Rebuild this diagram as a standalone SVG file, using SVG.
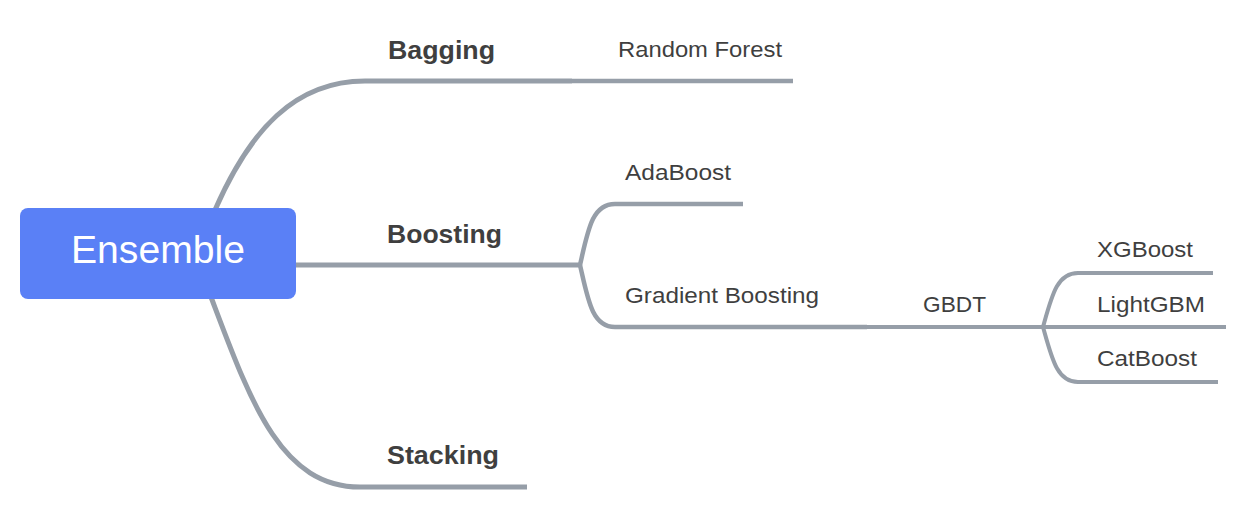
<svg xmlns="http://www.w3.org/2000/svg" width="1247" height="511" viewBox="0 0 1247 511">
<style>
.c{fill:none;stroke:#969ea8;stroke-linecap:butt;stroke-linejoin:round}
.w1{stroke-width:5}
.w2{stroke-width:4.5}
.w3{stroke-width:4}
.t{font-family:"Liberation Sans",Arial,sans-serif;fill:#3f3f3f}
.b{font-size:25px;font-weight:bold}
.n{font-size:22px}
.root{font-family:"Liberation Sans",Arial,sans-serif;font-size:38px;fill:#ffffff}
</style>
<rect width="1247" height="511" fill="#ffffff"/>
<g id="connectors">
<path class="c w1" d="M215 210 C250 130 295 81 365 81 H572"/>
<path class="c w2" d="M572 81 H793"/>
<path class="c w1" d="M294 265 H581"/>
<path class="c w2" d="M580 265 C588 230 592 204 615 204 H743"/>
<path class="c w2" d="M580 265 C588 300 592 327 615 327 H867"/>
<path class="c w3" d="M867 327 H1043"/>
<path class="c w3" d="M1043 327 C1052 295 1057 273 1078 273 H1213"/>
<path class="c w3" d="M1043 327 H1226"/>
<path class="c w3" d="M1043 327 C1052 359 1057 382 1078 382 H1218"/>
<path class="c w1" d="M211 297 C250 400 280 487 360 487 H527"/>
</g>
<g id="ensemble">
<rect x="20" y="208" width="276" height="91" rx="8" ry="8" fill="#5a80f6"/>
<text class="root" x="71" y="263" textLength="174" lengthAdjust="spacingAndGlyphs">Ensemble</text>
</g>
<g id="bagging"><text class="t b" x="388" y="59" textLength="107" lengthAdjust="spacingAndGlyphs">Bagging</text></g>
<g id="random-forest"><text class="t n" x="618" y="57" textLength="164" lengthAdjust="spacingAndGlyphs">Random Forest</text></g>
<g id="boosting"><text class="t b" x="387" y="243" textLength="115" lengthAdjust="spacingAndGlyphs">Boosting</text></g>
<g id="adaboost"><text class="t n" x="625" y="180" textLength="106" lengthAdjust="spacingAndGlyphs">AdaBoost</text></g>
<g id="gradient-boosting"><text class="t n" x="625" y="303" textLength="194" lengthAdjust="spacingAndGlyphs">Gradient Boosting</text></g>
<g id="gbdt"><text class="t n" x="923" y="312" textLength="63" lengthAdjust="spacingAndGlyphs">GBDT</text></g>
<g id="xgboost"><text class="t n" x="1097" y="257" textLength="96" lengthAdjust="spacingAndGlyphs">XGBoost</text></g>
<g id="lightgbm"><text class="t n" x="1097" y="312" textLength="108" lengthAdjust="spacingAndGlyphs">LightGBM</text></g>
<g id="catboost"><text class="t n" x="1097" y="366" textLength="100" lengthAdjust="spacingAndGlyphs">CatBoost</text></g>
<g id="stacking"><text class="t b" x="387" y="464" textLength="112" lengthAdjust="spacingAndGlyphs">Stacking</text></g>
</svg>
